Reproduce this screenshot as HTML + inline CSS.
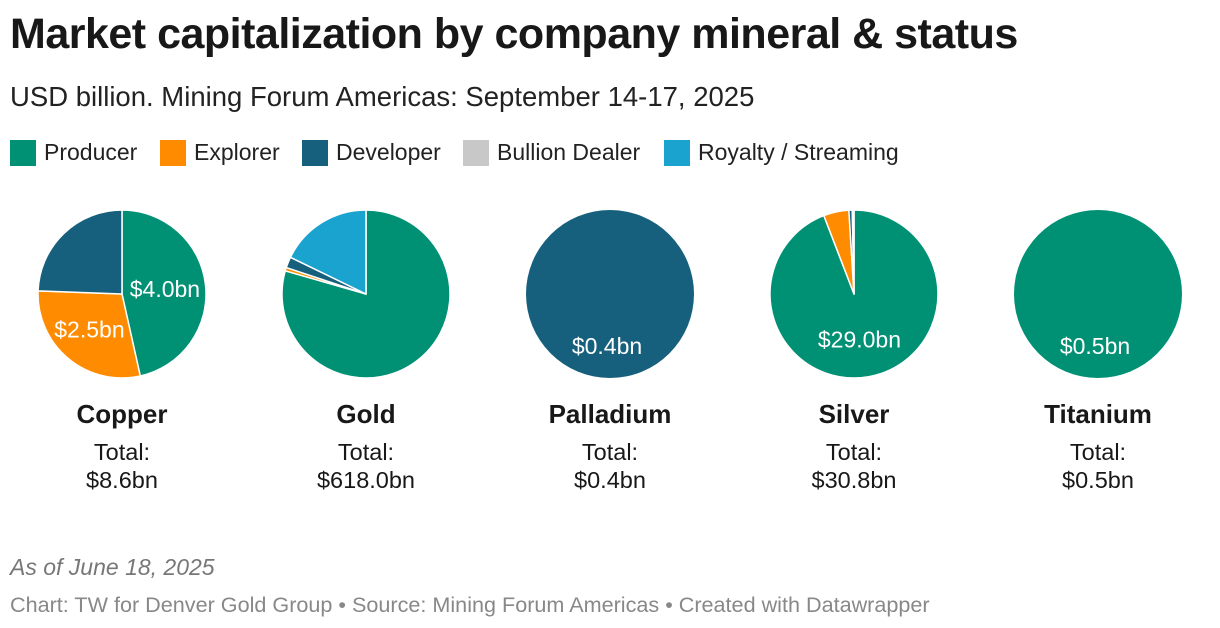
<!DOCTYPE html>
<html><head><meta charset="utf-8"><style>
body{margin:0;width:1220px;height:628px;background:#fff;font-family:"Liberation Sans",sans-serif;color:#181818;position:relative;overflow:hidden}
.t{position:absolute;white-space:nowrap}
.leg{position:absolute;top:139px;display:flex;align-items:center;font-size:23px;color:#222}
.sw{width:26px;height:26px;margin-right:8px}
</style></head><body>
<div class="t" style="left:10px;top:10px;font-size:43px;font-weight:bold;letter-spacing:-0.5px">Market capitalization by company mineral &amp; status</div>
<div class="t" style="left:10px;top:81px;font-size:27.5px;color:#222">USD billion. Mining Forum Americas: September 14-17, 2025</div>
<div class="leg" style="left:10px"><div class="sw" style="background:#009175"></div>Producer</div>
<div class="leg" style="left:160px"><div class="sw" style="background:#ff8c00"></div>Explorer</div>
<div class="leg" style="left:302px"><div class="sw" style="background:#17607d"></div>Developer</div>
<div class="leg" style="left:463px"><div class="sw" style="background:#c8c8c8"></div>Bullion Dealer</div>
<div class="leg" style="left:664px"><div class="sw" style="background:#1ba3d0"></div>Royalty / Streaming</div>
<svg id="pies" width="1220" height="628" style="position:absolute;left:0;top:0"></svg>
<div class="t" style="left:10px;top:554px;font-size:23px;font-style:italic;color:#777">As of June 18, 2025</div>
<div class="t" style="left:10px;top:592px;font-size:21.6px;color:#888">Chart: TW for Denver Gold Group • Source: Mining Forum Americas • Created with Datawrapper</div>
<script>
const minerals=["Copper","Gold","Palladium","Silver","Titanium"];
const totals=["$8.6bn","$618.0bn","$0.4bn","$30.8bn","$0.5bn"];
const producer=[4.0,491,0,29.0,0.5];
const explorer=[2.5,4,0,1.5,0];
const developer=[2.1,13,0.4,0.2,0];
const bullion=[0,0,0,0.1,0];
const royalty=[0,110,0,0,0];
const labelled=["Copper-producer","Copper-explorer","Palladium-developer","Silver-producer","Titanium-producer"];
const colors=["#009175","#ff8c00","#17607d","#c8c8c8","#1ba3d0"];
const keys=["producer","explorer","developer","bullion","royalty"];
const svg=document.getElementById('pies');
const NS="http://www.w3.org/2000/svg";
const R=84,CY=294;
function cx(i){return 122+i*244;}
function pt(x,y,a,r){return [x+r*Math.sin(a),y-r*Math.cos(a)];}
minerals.forEach((m,i)=>{
  const vals=[producer[i],explorer[i],developer[i],bullion[i],royalty[i]];
  const sum=vals.reduce((a,b)=>a+b,0);
  const x=cx(i);let a0=0;
  const nonzero=vals.filter(v=>v>0).length;
  vals.forEach((v,k)=>{
    if(v<=0)return;
    const a1=a0+v/sum*2*Math.PI;
    let el;
    if(nonzero===1){el=document.createElementNS(NS,'circle');el.setAttribute('cx',x);el.setAttribute('cy',CY);el.setAttribute('r',R);}
    else{
      const p0=pt(x,CY,a0,R),p1=pt(x,CY,a1,R);
      el=document.createElementNS(NS,'path');
      el.setAttribute('d',`M${x},${CY}L${p0[0]},${p0[1]}A${R},${R} 0 ${a1-a0>Math.PI?1:0} 1 ${p1[0]},${p1[1]}Z`);
      el.setAttribute('stroke','#fff');el.setAttribute('stroke-width','1.5');el.setAttribute('stroke-linejoin','round');
    }
    el.setAttribute('fill',colors[k]);
    
    
    svg.appendChild(el);
    if(labelled.includes(m+'-'+keys[k])){
      let lx,ly;
      if(nonzero===1){lx=x;ly=CY+52;}
      else{const am=(a0+a1)/2;[lx,ly]=pt(x,CY,am,R*0.55);}
      const t=document.createElementNS(NS,'text');
      t.setAttribute('x',lx-3);t.setAttribute('y',ly+8);t.setAttribute('text-anchor','middle');
      t.setAttribute('font-size','23');t.setAttribute('fill','#fff');
      t.textContent='$'+v.toFixed(1)+'bn';
      
      
      svg.appendChild(t);
    }
    a0=a1;
  });
  const n=document.createElementNS(NS,'text');
  n.setAttribute('x',x);n.setAttribute('y',423);n.setAttribute('text-anchor','middle');
  n.setAttribute('font-size','26');n.setAttribute('font-weight','bold');n.setAttribute('fill','#181818');
  n.textContent=m;
  
  
  svg.appendChild(n);
  [["Total:",460],[totals[i],488]].forEach(([s,y])=>{
    const t=document.createElementNS(NS,'text');
    t.setAttribute('x',x);t.setAttribute('y',y);t.setAttribute('text-anchor','middle');
    t.setAttribute('font-size','23.5');t.setAttribute('fill','#181818');
    t.textContent=s;
    
    
    svg.appendChild(t);
  });
});
</script>
</body></html>
